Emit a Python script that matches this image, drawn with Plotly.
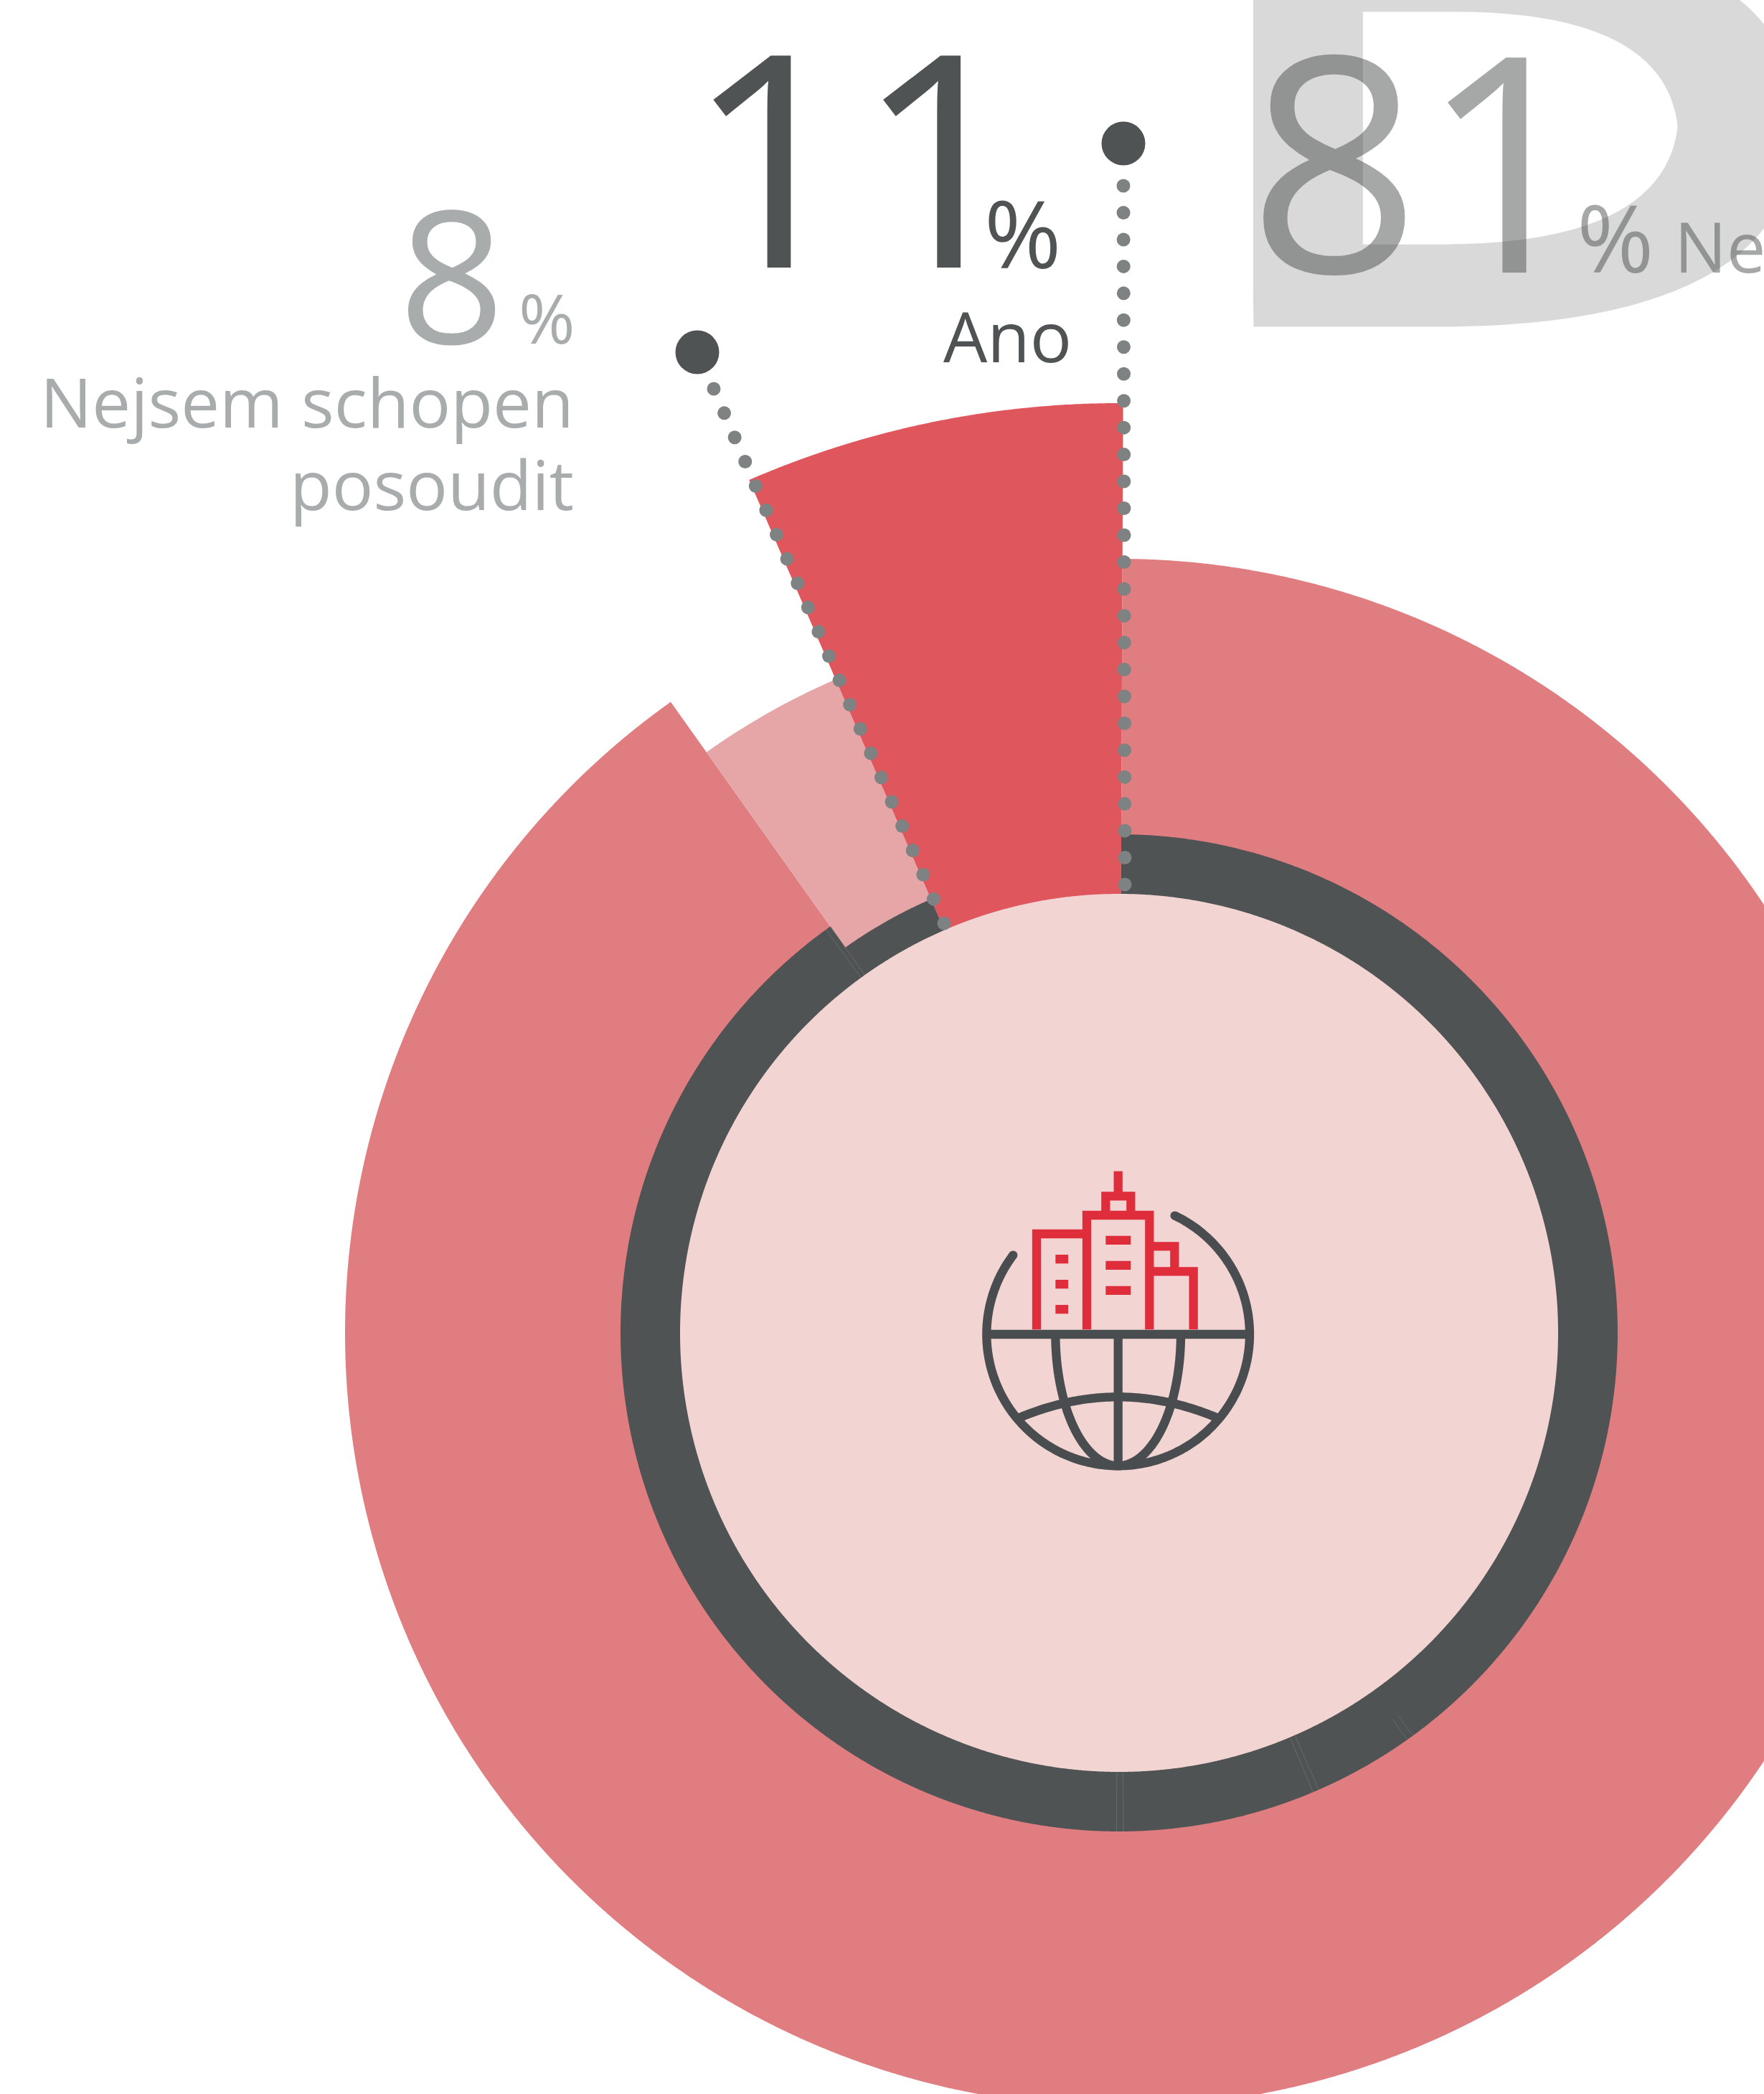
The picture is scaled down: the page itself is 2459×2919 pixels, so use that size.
import numpy as np
import plotly.graph_objects as go

# ---- data ----
categories = ["Ne", "Nejsem schopen posoudit", "Ano"]
value_labels = ["81", "8", "11"]
slice_sweep_deg = [324.35, 11.95, 23.7]     # drawn angular span of each slice, clockwise from the top
slice_outer_radius = [1079, 993, 1296]
ring_outer_radius = [695, 659, 0]
seam_angles_deg = [324.0, 324.6, 144.7, 143.9, 157.1, 156.4, 180.3, 179.5]
seam_inner_radius = [612, 659, 661, 661, 612, 612, 612, 612]

# ---- styles and geometry ----
W, H = 2459, 2919
CX, CY = 1560, 1858
START_DEG = 0.25
INNER_R = 612
slice_colors = ["#e07d80", "#e6a6a8", "#df575c"]
DARK = "#505354"
CENTER = "#f2d5d3"
ICON_DARK = "#4a4d4f"
ICON_RED = "#e02d3c"
DOT = "#7e8283"
LIGHT_TEXT = "#a8acac"
GHOST_TEXT = "rgba(70,74,74,0.48)"
FONT = "Open Sans"


def px(x):
    return np.asarray(x, dtype=float) - CX


def py(y):
    return CY - np.asarray(y, dtype=float)


def wedge(a0, a1, r):
    t = np.radians(np.linspace(a0, a1, max(int(abs(a1 - a0) * 6), 8)))
    return np.r_[0, r * np.sin(t), 0], np.r_[0, r * np.cos(t), 0]


fig = go.Figure()


def fill(x, y, color):
    fig.add_trace(go.Scatter(x=x, y=y, mode="lines", fill="toself", fillcolor=color,
                             line=dict(width=0, simplify=False), hoverinfo="skip", showlegend=False))


# slices, then the ring segment of each slice, then the centre disc
edges = START_DEG + np.r_[0, np.cumsum(slice_sweep_deg)]
for i in range(len(categories)):
    fill(*wedge(edges[i], edges[i + 1], slice_outer_radius[i]), slice_colors[i])
for i in range(len(categories)):
    if ring_outer_radius[i] > 0:
        fill(*wedge(edges[i], edges[i + 1], ring_outer_radius[i]), DARK)
fill(*wedge(0, 360, INNER_R), CENTER)

# hairline seams in the dark ring
sx, sy = [], []
for a, r0 in zip(seam_angles_deg, seam_inner_radius):
    t = np.radians(a)
    sx += [r0 * np.sin(t), ring_outer_radius[0] * np.sin(t), None]
    sy += [r0 * np.cos(t), ring_outer_radius[0] * np.cos(t), None]
fig.add_trace(go.Scatter(x=sx, y=sy, mode="lines", line=dict(color="#676a6b", width=1, simplify=False),
                         hoverinfo="skip", showlegend=False))

# dotted leaders
leaders = [((1566, 259), (1568, 1233), 27, (1566, 200)),
           ((995, 542), (1316, 1287), 23, (972, 491))]
for p0, p1, n, head in leaders:
    fig.add_trace(go.Scatter(x=px(np.linspace(p0[0], p1[0], n)), y=py(np.linspace(p0[1], p1[1], n)),
                             mode="markers", marker=dict(color=DOT, size=19, line=dict(width=0)),
                             hoverinfo="skip", showlegend=False))
    fig.add_trace(go.Scatter(x=px([head[0]]), y=py([head[1]]), mode="markers",
                             marker=dict(color=DARK, size=61, line=dict(width=0)),
                             hoverinfo="skip", showlegend=False))


# icon: coordinates in a local frame, 3 units per pixel
def ix(v):
    return px(1300 + np.asarray(v, dtype=float) / 3)


def iy(v):
    return py(1560 + np.asarray(v, dtype=float) / 3)


def icon(paths, color, width=12.3):
    xs, ys = [], []
    for path in paths:
        a = np.array(path, dtype=float)
        xs += list(ix(a[:, 0])) + [None]
        ys += list(iy(a[:, 1])) + [None]
    fig.add_trace(go.Scatter(x=xs, y=ys, mode="lines", line=dict(color=color, width=width, simplify=False),
                             hoverinfo="skip", showlegend=False))


GC, GY, GR = 776, 900, 550
tt = np.radians(np.linspace(25.5, 307, 280))
globe = np.c_[GC + GR * np.sin(tt), GY - GR * np.cos(tt)]
phi = np.linspace(0, np.pi / 2, 80)
mer_l = np.c_[GC - 262 * np.cos(phi), GY + GR * np.sin(phi)]
mer_r = np.c_[GC + 262 * np.cos(phi), GY + GR * np.sin(phi)]
par_x = np.linspace(360, 1192, 80)
parallel = np.c_[par_x, 1162 + 88 * ((par_x - GC) / 416) ** 2]
icon([globe, mer_l, mer_r, parallel,
      [(226, GY), (1326, GY)], [(GC, GY), (GC, GY + GR)]], ICON_DARK)
fig.add_trace(go.Scatter(x=ix([globe[0, 0], globe[-1, 0]]), y=iy([globe[0, 1], globe[-1, 1]]),
                         mode="markers", marker=dict(color=ICON_DARK, size=12.3, line=dict(width=0)),
                         hoverinfo="skip", showlegend=False))
icon([[(435, 880), (435, 480), (645, 480)],
      [(645, 880), (645, 402), (907, 402), (907, 880)],
      [(724, 402), (724, 322), (829, 322), (829, 402)],
      [(776, 218), (776, 322)],
      [(907, 532), (1012, 532), (1012, 637)],
      [(907, 637), (1091, 637), (1091, 880)],
      [(514, 585.5), (567, 585.5)], [(514, 690.5), (567, 690.5)], [(514, 795.5), (567, 795.5)],
      [(724, 506.5), (829, 506.5)], [(724, 611.5), (829, 611.5)], [(724, 716.5), (829, 716.5)]],
     ICON_RED)


def label(text, x, baseline, size, anchor="left", color=DARK, weight=400, shadow=None):
    font = dict(family=FONT, size=size, color=color, weight=weight)
    if shadow:
        font["shadow"] = shadow
    fig.add_annotation(x=float(px(x)), y=float(py(baseline + 0.293 * size)), text=text, showarrow=False,
                       xref="x", yref="y", xanchor=anchor, yanchor="bottom", borderpad=0, font=font)


# watermark letter first so that it stays under the figures
label("D", 1625, 434, 712, color="#d9d9d9", weight=600,
      shadow="0 -33px 0 #d9d9d9, 0 33px 0 #d9d9d9, 0 -16px 0 #d9d9d9, 0 16px 0 #d9d9d9")
label(value_labels[2], 956, 374, 414)
label("%", 1371, 375, 130)
label(categories[2], 1495, 506, 97, "right")
label(value_labels[1], 705, 480, 258, "right", LIGHT_TEXT)
label("%", 803, 480, 95, "right", LIGHT_TEXT)
label("Nejsem schopen", 801, 597, 96, "right", LIGHT_TEXT)
label("posoudit", 801, 712, 96, "right", LIGHT_TEXT)
label(value_labels[0], 1739, 381, 420, "left", GHOST_TEXT)
label("%", 2197, 381, 130, "left", GHOST_TEXT)
label(categories[0], 2333, 381, 97, "left", GHOST_TEXT)

fig.update_layout(width=W, height=H, margin=dict(l=0, r=0, t=0, b=0), autosize=False,
                  paper_bgcolor="white", plot_bgcolor="white", showlegend=False,
                  xaxis=dict(range=[-CX, W - CX], visible=False, fixedrange=True),
                  yaxis=dict(range=[CY - H, CY], visible=False, fixedrange=True))

post = """
document.body.style.margin='0';
document.documentElement.style.overflow='hidden';
function wide(){
  document.querySelectorAll('.annotation-text').forEach(function(t){
    if(t.textContent==='D'){
      t.removeAttribute('transform');
      var b=t.getBBox(), x0=b.x;
      t.setAttribute('transform','translate('+x0+',0) scale(1.82,1) translate('+(-x0)+',0)');
    }
  });
}
wide(); setTimeout(wide,100); setTimeout(wide,600);
"""
fig.write_html("out.html", post_script=post, config={"displayModeBar": False})
